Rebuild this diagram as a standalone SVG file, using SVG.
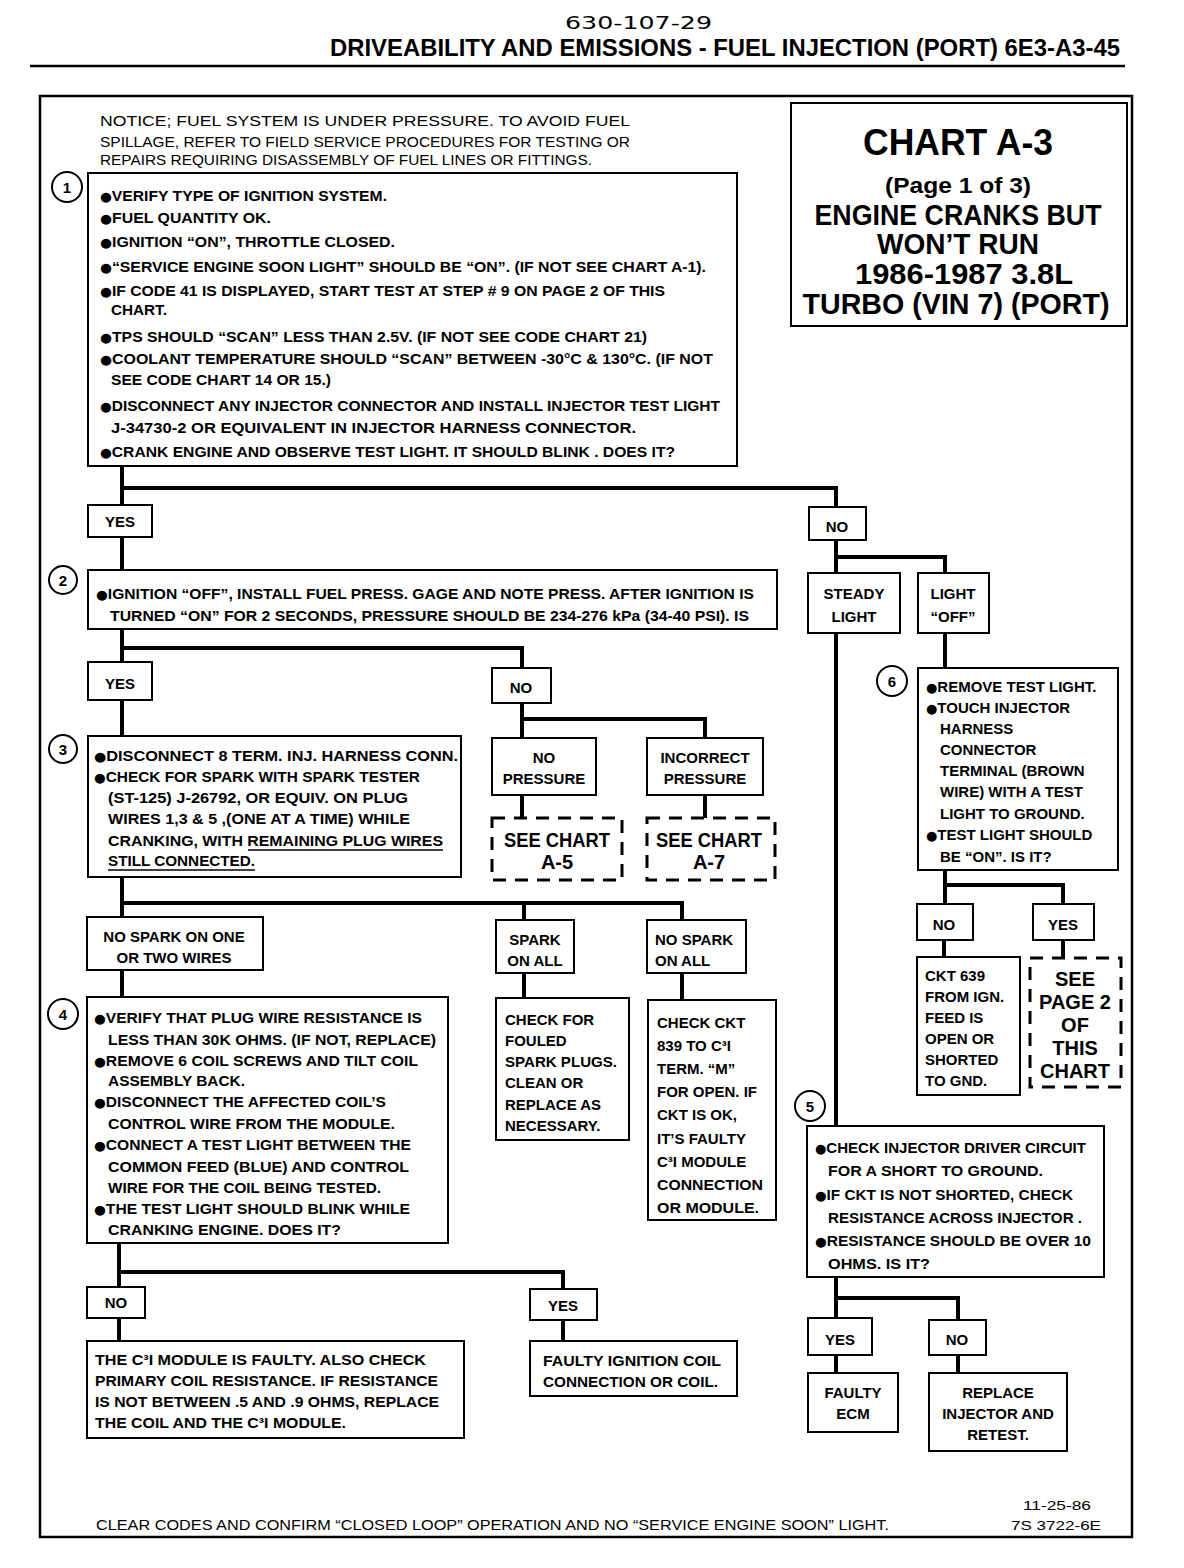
<svg xmlns="http://www.w3.org/2000/svg" width="1184" height="1568" viewBox="0 0 1184 1568">
<style>
.bx{fill:#fff;stroke:#000;stroke-width:2}
.ds{fill:#fff;stroke:#000;stroke-width:3;stroke-dasharray:13 9}
.w{fill:none;stroke:#000;stroke-width:4}
.ln{fill:none;stroke:#000;stroke-width:2.5}
.ci{fill:#fff;stroke:#000;stroke-width:2}
text{font-family:"Liberation Sans",Arial,sans-serif;font-weight:bold;font-size:15px;fill:#000}
.m{text-anchor:middle}
.n{font-weight:normal}
.big{font-size:20px}
.b{font-size:13px;font-family:"DejaVu Sans",sans-serif}
</style>
<rect x="0" y="0" width="1184" height="1568" fill="#fff"/>
<g id="header">
<text x="565" y="29" class="n" style="font-family:'DejaVu Sans',sans-serif;font-size:17px" textLength="147" lengthAdjust="spacingAndGlyphs">630-107-29</text>
<text x="330" y="56" style="font-size:23px" textLength="790" lengthAdjust="spacingAndGlyphs">DRIVEABILITY AND EMISSIONS - FUEL INJECTION (PORT)  6E3-A3-45</text>
<line class="ln" x1="30" y1="66" x2="1125" y2="66"/>
</g>
<rect id="frame" x="40" y="96" width="1092" height="1441" fill="none" stroke="#000" stroke-width="2.5"/>
<g id="title">
<rect class="bx" x="791" y="103" width="336" height="223"/>
<text x="958" y="155" class="m" style="font-size:37px" textLength="190" lengthAdjust="spacingAndGlyphs">CHART A-3</text>
<text x="958" y="193" class="m" style="font-size:22px" textLength="146" lengthAdjust="spacingAndGlyphs">(Page 1 of 3)</text>
<text x="958" y="225" class="m" style="font-size:29px" textLength="287" lengthAdjust="spacingAndGlyphs">ENGINE CRANKS BUT</text>
<text x="958" y="254" class="m" style="font-size:29px" textLength="162" lengthAdjust="spacingAndGlyphs">WON’T RUN</text>
<text x="964" y="284" class="m" style="font-size:29px" textLength="218" lengthAdjust="spacingAndGlyphs">1986-1987  3.8L</text>
<text x="956" y="314" class="m" style="font-size:29px" textLength="307" lengthAdjust="spacingAndGlyphs">TURBO  (VIN 7)  (PORT)</text>
</g>
<g id="notice">
<text x="100" y="126" class="n" textLength="530" lengthAdjust="spacingAndGlyphs">NOTICE;  FUEL SYSTEM  IS  UNDER  PRESSURE.    TO  AVOID  FUEL</text>
<text x="100" y="147" class="n" textLength="530" lengthAdjust="spacingAndGlyphs">SPILLAGE, REFER TO FIELD SERVICE PROCEDURES FOR TESTING OR</text>
<text x="100" y="165" class="n" textLength="492" lengthAdjust="spacingAndGlyphs">REPAIRS REQUIRING DISASSEMBLY OF FUEL LINES OR FITTINGS.</text>
</g>
<g id="connectors">
<path class="w" d="M122 466V505M122 488H836V507M122 537V570M836 540V573M836 557H945V573"/>
<path class="w" d="M122 629V662M122 648H522V668M122 700V736M522 703V738M522 719H705V738M522 795V818M705 795V818"/>
<path class="w" d="M122 877V917M122 903H682V920M524 903V920M122 970V997M524 973V998M682 973V1000"/>
<path class="w" d="M119 1243V1287M119 1272H563V1289M119 1318V1341M563 1320V1341"/>
<path class="w" d="M836 633V1126M836 1277V1318M836 1298H958V1320M836 1355V1373M958 1355V1373"/>
<path class="w" d="M945 633V668M945 870V904M945 885H1063V904M944 940V957M1063 940V958"/>
</g>
<g id="step1">
<circle class="ci" cx="67" cy="187" r="15"/><text x="67" y="193" class="m">1</text>
<rect class="bx" x="88" y="173" width="649" height="293"/>
<text x="100" y="201" textLength="287" lengthAdjust="spacingAndGlyphs"><tspan class="b">●</tspan>VERIFY TYPE OF IGNITION SYSTEM.</text>
<text x="100" y="223" textLength="171" lengthAdjust="spacingAndGlyphs"><tspan class="b">●</tspan>FUEL QUANTITY OK.</text>
<text x="100" y="247" textLength="295" lengthAdjust="spacingAndGlyphs"><tspan class="b">●</tspan>IGNITION “ON”, THROTTLE CLOSED.</text>
<text x="100" y="272" textLength="606" lengthAdjust="spacingAndGlyphs"><tspan class="b">●</tspan>“SERVICE ENGINE SOON LIGHT” SHOULD BE “ON”.  (IF NOT SEE CHART A-1).</text>
<text x="100" y="296" textLength="565" lengthAdjust="spacingAndGlyphs"><tspan class="b">●</tspan>IF CODE 41 IS DISPLAYED, START TEST  AT STEP # 9 ON PAGE 2 OF THIS</text>
<text x="111" y="315" textLength="56" lengthAdjust="spacingAndGlyphs">CHART.</text>
<text x="100" y="342" textLength="547" lengthAdjust="spacingAndGlyphs"><tspan class="b">●</tspan>TPS SHOULD “SCAN” LESS THAN 2.5V.  (IF NOT SEE CODE CHART 21)</text>
<text x="100" y="364" textLength="613" lengthAdjust="spacingAndGlyphs"><tspan class="b">●</tspan>COOLANT TEMPERATURE SHOULD  “SCAN” BETWEEN -30°C &amp; 130°C. (IF NOT</text>
<text x="111" y="385" textLength="220" lengthAdjust="spacingAndGlyphs">SEE CODE CHART 14 OR 15.)</text>
<text x="100" y="411" textLength="620" lengthAdjust="spacingAndGlyphs"><tspan class="b">●</tspan>DISCONNECT ANY INJECTOR CONNECTOR AND INSTALL INJECTOR TEST LIGHT</text>
<text x="111" y="433" textLength="525" lengthAdjust="spacingAndGlyphs">J-34730-2 OR EQUIVALENT IN INJECTOR HARNESS CONNECTOR.</text>
<text x="100" y="457" textLength="575" lengthAdjust="spacingAndGlyphs"><tspan class="b">●</tspan>CRANK ENGINE AND OBSERVE TEST LIGHT.  IT SHOULD BLINK .  DOES IT?</text>
</g>
<g id="yes1"><rect class="bx" x="88" y="505" width="64" height="32"/><text x="120" y="527" class="m">YES</text></g>
<g id="no1"><rect class="bx" x="809" y="507" width="57" height="33"/><text x="837" y="532" class="m">NO</text></g>
<g id="step2">
<circle class="ci" cx="63" cy="580" r="14"/><text x="63" y="586" class="m">2</text>
<rect class="bx" x="88" y="570" width="689" height="59"/>
<text x="96" y="599" textLength="658" lengthAdjust="spacingAndGlyphs"><tspan class="b">●</tspan>IGNITION “OFF”, INSTALL FUEL PRESS. GAGE AND NOTE PRESS. AFTER IGNITION IS</text>
<text x="110" y="621" textLength="639" lengthAdjust="spacingAndGlyphs">TURNED “ON” FOR 2 SECONDS,  PRESSURE SHOULD BE 234-276 kPa (34-40 PSI).  IS</text>
</g>
<g id="steady"><rect class="bx" x="808" y="573" width="92" height="60"/><text x="854" y="599" class="m">STEADY</text><text x="854" y="622" class="m">LIGHT</text></g>
<g id="lightoff"><rect class="bx" x="918" y="573" width="71" height="60"/><text x="953" y="599" class="m">LIGHT</text><text x="953" y="622" class="m">“OFF”</text></g>
<g id="yes2"><rect class="bx" x="88" y="662" width="64" height="38"/><text x="120" y="689" class="m">YES</text></g>
<g id="no2"><rect class="bx" x="492" y="668" width="59" height="35"/><text x="521" y="693" class="m">NO</text></g>
<g id="nopress"><rect class="bx" x="492" y="738" width="104" height="57"/><text x="544" y="763" class="m">NO</text><text x="544" y="784" class="m">PRESSURE</text></g>
<g id="incorrect"><rect class="bx" x="647" y="738" width="116" height="57"/><text x="705" y="763" class="m">INCORRECT</text><text x="705" y="784" class="m">PRESSURE</text></g>
<g id="chartA5"><rect class="ds" x="492" y="818" width="130" height="62"/><text x="557" y="847" class="m big" textLength="106" lengthAdjust="spacingAndGlyphs">SEE CHART</text><text x="557" y="869" class="m big">A-5</text></g>
<g id="chartA7"><rect class="ds" x="647" y="818" width="128" height="62"/><text x="709" y="847" class="m big" textLength="106" lengthAdjust="spacingAndGlyphs">SEE CHART</text><text x="709" y="869" class="m big">A-7</text></g>
<g id="step3">
<circle class="ci" cx="63" cy="749" r="14"/><text x="63" y="755" class="m">3</text>
<rect class="bx" x="88" y="736" width="373" height="141"/>
<text x="94" y="761" textLength="364" lengthAdjust="spacingAndGlyphs"><tspan class="b">●</tspan>DISCONNECT 8 TERM. INJ. HARNESS CONN.</text>
<text x="94" y="782" textLength="326" lengthAdjust="spacingAndGlyphs"><tspan class="b">●</tspan>CHECK FOR SPARK WITH SPARK TESTER</text>
<text x="108" y="803" textLength="300" lengthAdjust="spacingAndGlyphs">(ST-125)  J-26792, OR EQUIV. ON PLUG</text>
<text x="108" y="824" textLength="302" lengthAdjust="spacingAndGlyphs">WIRES 1,3 &amp; 5 ,(ONE AT A TIME) WHILE</text>
<text x="108" y="846" textLength="335" lengthAdjust="spacingAndGlyphs">CRANKING, WITH REMAINING PLUG WIRES</text>
<text x="108" y="866" textLength="147" lengthAdjust="spacingAndGlyphs">STILL CONNECTED.</text>
<line x1="248" y1="850" x2="443" y2="850" stroke="#000" stroke-width="1.5"/>
<line x1="108" y1="870" x2="255" y2="870" stroke="#000" stroke-width="1.5"/>
</g>
<g id="nosparkone"><rect class="bx" x="87" y="917" width="176" height="53"/><text x="174" y="942" class="m">NO SPARK ON ONE</text><text x="174" y="963" class="m">OR TWO WIRES</text></g>
<g id="sparkall"><rect class="bx" x="496" y="920" width="78" height="53"/><text x="535" y="945" class="m">SPARK</text><text x="535" y="966" class="m">ON ALL</text></g>
<g id="nosparkall"><rect class="bx" x="647" y="920" width="99" height="53"/><text x="655" y="945">NO SPARK</text><text x="655" y="966">ON ALL</text></g>
<g id="step4">
<circle class="ci" cx="63" cy="1014" r="15"/><text x="63" y="1020" class="m">4</text>
<rect class="bx" x="87" y="997" width="361" height="246"/>
<text x="94" y="1023" textLength="328" lengthAdjust="spacingAndGlyphs"><tspan class="b">●</tspan>VERIFY THAT PLUG WIRE RESISTANCE IS</text>
<text x="108" y="1045" textLength="328" lengthAdjust="spacingAndGlyphs">LESS THAN 30K OHMS. (IF NOT, REPLACE)</text>
<text x="94" y="1066" textLength="324" lengthAdjust="spacingAndGlyphs"><tspan class="b">●</tspan>REMOVE 6 COIL SCREWS AND TILT COIL</text>
<text x="108" y="1086" textLength="137" lengthAdjust="spacingAndGlyphs">ASSEMBLY BACK.</text>
<text x="94" y="1107" textLength="292" lengthAdjust="spacingAndGlyphs"><tspan class="b">●</tspan>DISCONNECT THE AFFECTED COIL’S</text>
<text x="108" y="1129" textLength="287" lengthAdjust="spacingAndGlyphs">CONTROL WIRE FROM THE MODULE.</text>
<text x="94" y="1150" textLength="317" lengthAdjust="spacingAndGlyphs"><tspan class="b">●</tspan>CONNECT A TEST LIGHT BETWEEN THE</text>
<text x="108" y="1172" textLength="301" lengthAdjust="spacingAndGlyphs">COMMON FEED (BLUE) AND CONTROL</text>
<text x="108" y="1193" textLength="273" lengthAdjust="spacingAndGlyphs">WIRE FOR THE COIL BEING TESTED.</text>
<text x="94" y="1214" textLength="316" lengthAdjust="spacingAndGlyphs"><tspan class="b">●</tspan>THE TEST LIGHT SHOULD BLINK WHILE</text>
<text x="108" y="1235" textLength="233" lengthAdjust="spacingAndGlyphs">CRANKING ENGINE.  DOES IT?</text>
</g>
<g id="checkfor">
<rect class="bx" x="496" y="998" width="133" height="142"/>
<text x="505" y="1025">CHECK FOR</text><text x="505" y="1046">FOULED</text><text x="505" y="1067" textLength="112" lengthAdjust="spacingAndGlyphs">SPARK PLUGS.</text><text x="505" y="1088">CLEAN OR</text><text x="505" y="1110">REPLACE AS</text><text x="505" y="1131">NECESSARY.</text>
</g>
<g id="checkckt">
<rect class="bx" x="648" y="1000" width="128" height="220"/>
<text x="657" y="1028">CHECK CKT</text><text x="657" y="1051">839 TO C³I</text><text x="657" y="1074">TERM. “M”</text><text x="657" y="1097">FOR OPEN.  IF</text><text x="657" y="1120">CKT IS OK,</text><text x="657" y="1144">IT’S FAULTY</text><text x="657" y="1167">C³I MODULE</text><text x="657" y="1190" textLength="106" lengthAdjust="spacingAndGlyphs">CONNECTION</text><text x="657" y="1213" textLength="102" lengthAdjust="spacingAndGlyphs">OR MODULE.</text>
</g>
<g id="no4"><rect class="bx" x="87" y="1287" width="58" height="31"/><text x="116" y="1308" class="m">NO</text></g>
<g id="yes4"><rect class="bx" x="530" y="1289" width="67" height="31"/><text x="563" y="1311" class="m">YES</text></g>
<g id="c3ifaulty">
<rect class="bx" x="87" y="1341" width="377" height="97"/>
<text x="95" y="1365" textLength="331" lengthAdjust="spacingAndGlyphs">THE C³I MODULE IS FAULTY.  ALSO CHECK</text>
<text x="95" y="1386" textLength="343" lengthAdjust="spacingAndGlyphs">PRIMARY COIL RESISTANCE.  IF RESISTANCE</text>
<text x="95" y="1407" textLength="344" lengthAdjust="spacingAndGlyphs">IS NOT BETWEEN .5 AND .9 OHMS, REPLACE</text>
<text x="95" y="1428" textLength="251" lengthAdjust="spacingAndGlyphs">THE COIL AND THE C³I MODULE.</text>
</g>
<g id="faultycoil">
<rect class="bx" x="530" y="1341" width="207" height="55"/>
<text x="543" y="1366" textLength="178" lengthAdjust="spacingAndGlyphs">FAULTY IGNITION COIL</text>
<text x="543" y="1387" textLength="175" lengthAdjust="spacingAndGlyphs">CONNECTION OR COIL.</text>
</g>
<g id="step6">
<circle class="ci" cx="892" cy="681" r="15"/><text x="892" y="687" class="m">6</text>
<rect class="bx" x="918" y="668" width="200" height="202"/>
<text x="926" y="692"><tspan class="b">●</tspan>REMOVE TEST LIGHT.</text>
<text x="926" y="713"><tspan class="b">●</tspan>TOUCH INJECTOR</text>
<text x="940" y="734">HARNESS</text>
<text x="940" y="755">CONNECTOR</text>
<text x="940" y="776">TERMINAL (BROWN</text>
<text x="940" y="797">WIRE) WITH A TEST</text>
<text x="940" y="819">LIGHT TO GROUND.</text>
<text x="926" y="840"><tspan class="b">●</tspan>TEST LIGHT SHOULD</text>
<text x="940" y="862">BE “ON”.  IS IT?</text>
</g>
<g id="no6"><rect class="bx" x="917" y="904" width="56" height="36"/><text x="944" y="930" class="m">NO</text></g>
<g id="yes6"><rect class="bx" x="1033" y="904" width="61" height="36"/><text x="1063" y="930" class="m">YES</text></g>
<g id="ckt639">
<rect class="bx" x="917" y="957" width="103" height="138"/>
<text x="925" y="981">CKT 639</text><text x="925" y="1002">FROM IGN.</text><text x="925" y="1023">FEED IS</text><text x="925" y="1044">OPEN OR</text><text x="925" y="1065">SHORTED</text><text x="925" y="1086">TO GND.</text>
</g>
<g id="page2">
<rect class="ds" x="1030" y="958" width="91" height="129"/>
<text x="1075" y="986" class="m big">SEE</text><text x="1075" y="1009" class="m big">PAGE 2</text><text x="1075" y="1032" class="m big">OF</text><text x="1075" y="1055" class="m big">THIS</text><text x="1075" y="1078" class="m big">CHART</text>
</g>
<g id="step5">
<circle class="ci" cx="810" cy="1106" r="15"/><text x="810" y="1112" class="m">5</text>
<rect class="bx" x="807" y="1126" width="297" height="151"/>
<text x="815" y="1153" textLength="271" lengthAdjust="spacingAndGlyphs"><tspan class="b">●</tspan>CHECK INJECTOR DRIVER CIRCUIT</text>
<text x="828" y="1176" textLength="215" lengthAdjust="spacingAndGlyphs">FOR  A SHORT TO GROUND.</text>
<text x="815" y="1200" textLength="258" lengthAdjust="spacingAndGlyphs"><tspan class="b">●</tspan>IF CKT IS NOT SHORTED, CHECK</text>
<text x="828" y="1223" textLength="254" lengthAdjust="spacingAndGlyphs">RESISTANCE ACROSS INJECTOR .</text>
<text x="815" y="1246" textLength="276" lengthAdjust="spacingAndGlyphs"><tspan class="b">●</tspan>RESISTANCE SHOULD BE OVER 10</text>
<text x="828" y="1269" textLength="102" lengthAdjust="spacingAndGlyphs">OHMS.  IS IT?</text>
</g>
<g id="yes5"><rect class="bx" x="808" y="1318" width="64" height="37"/><text x="840" y="1345" class="m">YES</text></g>
<g id="no5"><rect class="bx" x="929" y="1320" width="57" height="35"/><text x="957" y="1345" class="m">NO</text></g>
<g id="faultyecm"><rect class="bx" x="808" y="1373" width="90" height="59"/><text x="853" y="1398" class="m">FAULTY</text><text x="853" y="1419" class="m">ECM</text></g>
<g id="replace"><rect class="bx" x="929" y="1373" width="138" height="78"/><text x="998" y="1398" class="m">REPLACE</text><text x="998" y="1419" class="m">INJECTOR AND</text><text x="998" y="1440" class="m">RETEST.</text></g>
<g id="footer">
<text x="96" y="1530" class="n" textLength="793" lengthAdjust="spacingAndGlyphs">CLEAR CODES AND CONFIRM “CLOSED LOOP”  OPERATION AND NO “SERVICE ENGINE SOON” LIGHT.</text>
<text x="1023" y="1510" class="n" style="font-size:13px" textLength="68" lengthAdjust="spacingAndGlyphs">11-25-86</text>
<text x="1011" y="1530" class="n" style="font-size:13px" textLength="90" lengthAdjust="spacingAndGlyphs">7S 3722-6E</text>
</g>
</svg>
